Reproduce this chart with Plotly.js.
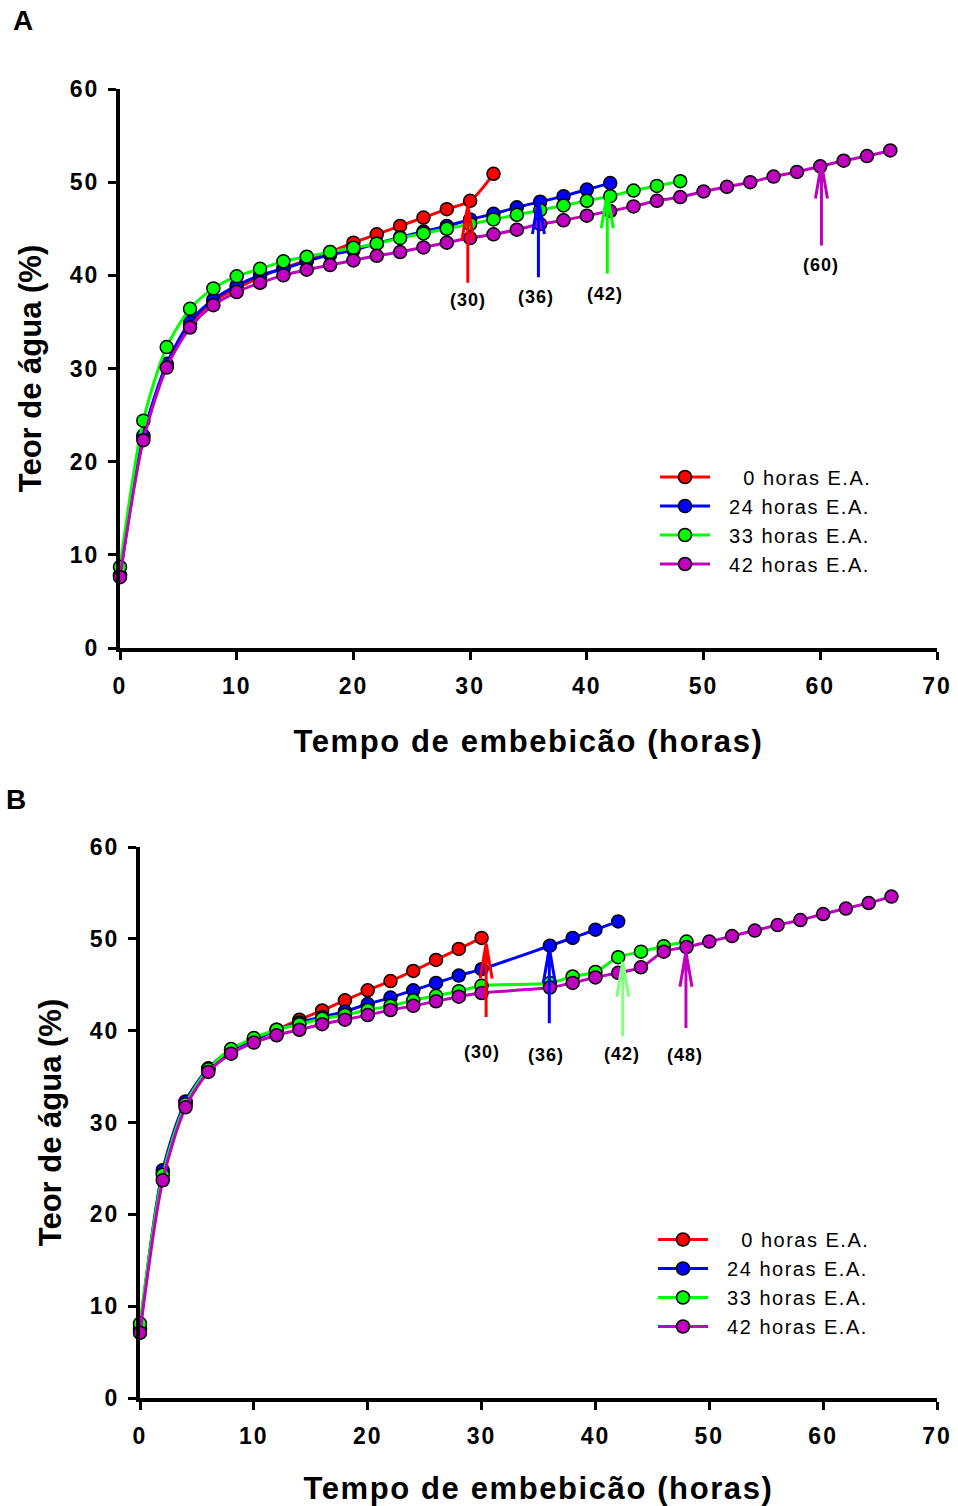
<!DOCTYPE html>
<html>
<head>
<meta charset="utf-8">
<script src="https://cdn.plot.ly/plotly-3.0.1.min.js"></script>
<style>
  html, body { margin: 0; padding: 0; background: #fff; }
  #chart { width: 958px; height: 1506px; }
  .xtick text, .ytick text, .x2tick text, .y2tick text { letter-spacing: 2px; }
  .legendtext, .legend text, .legend2 text { letter-spacing: 1.5px; }
  .xtitle, .x2title { letter-spacing: 1.6px; }
  .annotation-text { letter-spacing: 1px; }
</style>
</head>
<body>
<div id="chart"></div>
<script>
// ---------------- DATA ----------------
const seriesNames = ['\u00a0\u00a0\u00a0\u00a00 horas E.A.', '\u00a0\u00a024 horas E.A.', '\u00a0\u00a033 horas E.A.', '\u00a0\u00a042 horas E.A.'];

// Panel A
const xA_red = [0,2,4,6,8,10,12,14,16,18,20,22,24,26,28,30,32];
const yA_red = [7.8,22.6,30.4,34.8,37.2,38.6,39.8,40.8,41.6,42.5,43.5,44.4,45.3,46.2,47.1,48.0,50.9];
const xA_blue = [0,2,4,6,8,10,12,14,16,18,20,22,24,26,28,30,32,34,36,38,40,42];
const yA_blue = [7.8,22.8,30.5,35.0,37.4,38.9,40.0,40.7,41.5,42.2,42.7,43.4,44.1,44.7,45.3,46.0,46.6,47.3,47.9,48.5,49.2,49.9];
const xA_green = [0,2,4,6,8,10,12,14,16,18,20,22,24,26,28,30,32,34,36,38,40,42,44,46,48];
const yA_green = [8.7,24.4,32.3,36.4,38.6,39.9,40.7,41.5,42.0,42.5,42.95,43.4,44.0,44.5,45.0,45.5,46.0,46.5,47.0,47.5,48.0,48.5,49.1,49.6,50.1];
const xA_mag = [0,2,4,6,8,10,12,14,16,18,20,22,24,26,28,30,32,34,36,38,40,42,44,46,48,50,52,54,56,58,60,62,64,66];
const yA_mag = [7.6,22.3,30.1,34.4,36.8,38.2,39.2,40.0,40.6,41.1,41.6,42.1,42.5,43.0,43.5,44.0,44.4,44.9,45.5,45.9,46.4,46.9,47.4,48.0,48.4,49.0,49.5,50.0,50.6,51.1,51.7,52.3,52.8,53.4];

// Panel B
const xB_red = [0,2,4,6,8,10,12,14,16,18,20,22,24,26,28,30];
const yB_red = [7.5,24.5,32.2,35.8,37.9,39.1,40.1,41.2,42.2,43.3,44.4,45.4,46.5,47.7,48.9,50.1];
const xB_blue = [0,2,4,6,8,10,12,14,16,18,20,22,24,26,28,30,36,38,40,42];
const yB_blue = [7.5,24.8,32.3,35.9,37.9,39.0,40.0,40.9,41.5,42.1,42.9,43.6,44.4,45.2,46.0,46.7,49.25,50.1,51.0,51.9];
const xB_green = [0,2,4,6,8,10,12,14,16,18,20,22,24,26,28,30,36,38,40,42,44,46,48];
const yB_green = [8.1,24.3,32.0,35.8,38.0,39.2,40.1,40.7,41.3,41.7,42.25,42.7,43.3,43.8,44.3,44.9,45.2,45.9,46.4,48.0,48.6,49.2,49.7];
const xB_mag = [0,2,4,6,8,10,12,14,16,18,20,22,24,26,28,30,36,38,40,42,44,46,48,50,52,54,56,58,60,62,64,66];
const yB_mag = [7.1,23.7,31.65,35.5,37.5,38.7,39.5,40.1,40.7,41.2,41.7,42.25,42.7,43.2,43.7,44.1,44.7,45.2,45.8,46.3,46.9,48.6,49.1,49.7,50.3,50.9,51.5,52.05,52.7,53.3,53.9,54.6];

// Arrows (x position, tip value, tail value) and labels
const arrowA_x = [29.8, 35.85, 41.75, 60.1];
const arrowA_tip = [47.5, 48.2, 48.8, 52.0];
const arrowA_tail = [39.2, 39.8, 40.2, 43.2];
const labelA_x = [29.8, 35.65, 41.56, 60.04];
const labelA_y = [37.3, 37.7, 38.0, 41.1];
const labelA_text = ['(30)', '(36)', '(42)', '(60)'];

const arrowB_x = [30.4, 35.95, 42.4, 47.95];
const arrowB_tip = [49.5, 49.0, 47.5, 48.6];
const arrowB_tail = [41.5, 40.8, 39.4, 40.3];
const labelB_x = [30.0, 35.7, 42.3, 47.9];
const labelB_y = [37.7, 37.35, 37.5, 37.35];
const labelB_text = ['(30)', '(36)', '(42)', '(48)'];

const xTicks = [0,10,20,30,40,50,60,70];
const yTicks = [0,10,20,30,40,50,60];

// ---------------- STYLE ----------------
const colors = ['#ff0000', '#0000ff', '#00ff00', '#bf00bf'];
const arrowColorsA = ['#ff0000', '#0000ff', '#00ff00', '#bf00bf'];
const arrowColorsB = ['#ff0000', '#0000ff', '#80ff80', '#bf00bf'];
const FONT = '"Liberation Sans", Arial, Helvetica, sans-serif';
const W = 958, H = 1506;

// plot-area pixel boxes
const boxA = {l:120, r:937, t:89, b:648};
const boxB = {l:140, r:937, t:847, b:1398};

function mkTrace(x, y, i, xa, ya, leg) {
  return {
    x: x, y: y, xaxis: xa, yaxis: ya, legend: leg,
    name: seriesNames[i], type: 'scatter', mode: 'lines+markers',
    line: {color: colors[i], width: 3, shape: 'spline', smoothing: 0.8},
    marker: {color: colors[i], size: 13, line: {color: '#000', width: 1.5}},
    cliponaxis: false
  };
}

const traces = [
  mkTrace(xA_red, yA_red, 0, 'x', 'y', 'legend'),
  mkTrace(xA_blue, yA_blue, 1, 'x', 'y', 'legend'),
  mkTrace(xA_green, yA_green, 2, 'x', 'y', 'legend'),
  mkTrace(xA_mag, yA_mag, 3, 'x', 'y', 'legend'),
  mkTrace(xB_red, yB_red, 0, 'x2', 'y2', 'legend2'),
  mkTrace(xB_blue, yB_blue, 1, 'x2', 'y2', 'legend2'),
  mkTrace(xB_green, yB_green, 2, 'x2', 'y2', 'legend2'),
  mkTrace(xB_mag, yB_mag, 3, 'x2', 'y2', 'legend2')
];

function arrowShapes(xs, tips, tails, cols, box, xa, ya) {
  const dx = 6 * 70 / (box.r - box.l);
  const dy = 35 * 60 / (box.b - box.t);
  return xs.map((x, i) => ({
    type: 'path', xref: xa, yref: ya,
    path: `M${x},${tails[i]} L${x},${tips[i]} M${x - dx},${tips[i] - dy} L${x},${tips[i]} L${x + dx},${tips[i] - dy}`,
    line: {color: cols[i], width: 3}
  }));
}

function labelAnns(xs, ys, texts, xa, ya) {
  return xs.map((x, i) => ({
    x: x, y: ys[i], xref: xa, yref: ya, text: texts[i], showarrow: false,
    font: {family: FONT, size: 18, color: '#000', weight: 'bold'}
  }));
}

function axisX(box, anchor) {
  return {
    domain: [box.l / W, box.r / W], anchor: anchor, range: [0, 70],
    tickvals: xTicks, ticks: 'outside', ticklen: 8, tickwidth: 3, tickcolor: '#000',
    ticklabelstandoff: 6,
    showline: true, linewidth: 4, linecolor: '#000', showgrid: false, zeroline: false,
    tickfont: {family: FONT, size: 23, color: '#000', weight: 'bold'},
    title: {text: 'Tempo de embebicão (horas)', standoff: 34,
            font: {family: FONT, size: 31, color: '#000', weight: 'bold'}},
    automargin: false, fixedrange: true
  };
}
function axisY(box, anchor) {
  return {
    domain: [1 - box.b / H, 1 - box.t / H], anchor: anchor, range: [0, 60],
    tickvals: yTicks, ticks: 'outside', ticklen: 8, tickwidth: 3, tickcolor: '#000',
    ticklabelstandoff: 4,
    showline: true, linewidth: 4, linecolor: '#000', showgrid: false, zeroline: false,
    tickfont: {family: FONT, size: 23, color: '#000', weight: 'bold'},
    title: {text: 'Teor de água (%)', standoff: 20,
            font: {family: FONT, size: 31, color: '#000', weight: 'bold'}},
    automargin: false, fixedrange: true
  };
}

function legendOpts(x, y) {
  return {
    font: {family: FONT, size: 20, color: '#000'},
    bgcolor: 'rgba(0,0,0,0)', borderwidth: 0,
    xanchor: 'left', yanchor: 'top', itemwidth: 50, tracegroupgap: 0,
    x: x, y: y
  };
}

const layout = {
  width: W, height: H,
  margin: {l: 0, r: 0, t: 0, b: 0},
  paper_bgcolor: '#fff', plot_bgcolor: '#fff',
  font: {family: FONT, color: '#000'},
  xaxis: axisX(boxA, 'y'),
  yaxis: axisY(boxA, 'x'),
  xaxis2: axisX(boxB, 'y2'),
  yaxis2: axisY(boxB, 'x2'),
  legend: legendOpts(655 / W, 1 - 457.5 / H),
  legend2: legendOpts(653 / W, 1 - 1220 / H),
  shapes: [].concat(
    arrowShapes(arrowA_x, arrowA_tip, arrowA_tail, arrowColorsA, boxA, 'x', 'y'),
    arrowShapes(arrowB_x, arrowB_tip, arrowB_tail, arrowColorsB, boxB, 'x2', 'y2')
  ),
  annotations: [].concat(
    labelAnns(labelA_x, labelA_y, labelA_text, 'x', 'y'),
    labelAnns(labelB_x, labelB_y, labelB_text, 'x2', 'y2'),
    [
      {text: 'A', x: 11 / W, y: 1 - 3 / H, xref: 'paper', yref: 'paper', xanchor: 'left', yanchor: 'top',
       showarrow: false, font: {family: FONT, size: 28, color: '#000', weight: 'bold'}},
      {text: 'B', x: 4 / W, y: 1 - 782 / H, xref: 'paper', yref: 'paper', xanchor: 'left', yanchor: 'top',
       showarrow: false, font: {family: FONT, size: 28, color: '#000', weight: 'bold'}}
    ]
  )
};

function applySpacing() {
  document.querySelectorAll('#chart text').forEach(function (t) {
    const cls = t.getAttribute('class') || '';
    if (cls.indexOf('legendtext') !== -1) {
      t.style.letterSpacing = '1.5px';
      t.setAttribute('letter-spacing', '1.5px');
    }
  });
}

const gd = document.getElementById('chart');
Plotly.newPlot(gd, traces, layout, {staticPlot: true, displayModeBar: false}).then(function () {
  applySpacing();
  setTimeout(applySpacing, 0);
  setTimeout(applySpacing, 200);
});
gd.on && gd.on('plotly_afterplot', applySpacing);
</script>
</body>
</html>
